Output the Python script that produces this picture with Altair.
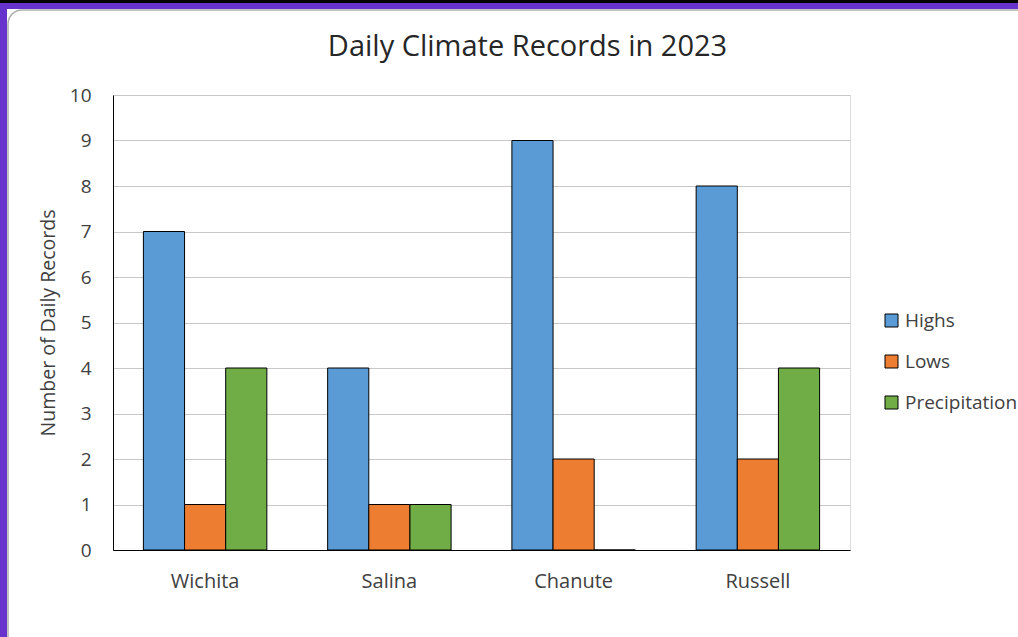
import altair as alt
import pandas as pd

cities = ["Wichita", "Salina", "Chanute", "Russell"]
series = ["Highs", "Lows", "Precipitation"]
highs = [7, 4, 9, 8]
lows = [1, 1, 2, 2]
precip = [4, 1, 0, 4]
colors = ["#5B9BD5", "#ED7D31", "#70AD47"]

rows = []
for i, c in enumerate(cities):
    for s, vals in zip(series, [highs, lows, precip]):
        rows.append({"City": c, "Type": s, "Value": vals[i]})
df = pd.DataFrame(rows)

FONT = "Open Sans"
TXT = "#404040"

bars = alt.Chart(df).mark_bar(stroke="black", strokeWidth=1).encode(
    x=alt.X("City:N", sort=cities,
            scale=alt.Scale(paddingInner=0.33, paddingOuter=0.165),
            axis=alt.Axis(title=None, labelAngle=0, ticks=False, domainColor="black",
                          labelFont=FONT, labelFontSize=20, labelColor=TXT,
                          labelPadding=21, grid=False, zindex=1)),
    xOffset=alt.XOffset("Type:N", sort=series),
    y=alt.Y("Value:Q", scale=alt.Scale(domain=[0, 10]),
            axis=alt.Axis(title="Number of Daily Records", values=list(range(11)),
                          ticks=False, domainColor="black", gridColor="#c8c8c8",
                          labelFont=FONT, labelFontSize=19, labelColor=TXT,
                          labelPadding=22, titleFont=FONT, titleFontSize=19.5,
                          titleFontWeight="normal", titleColor=TXT, titlePadding=11,
                          zindex=0)),
    color=alt.Color("Type:N", sort=series,
                    scale=alt.Scale(domain=series, range=colors),
                    legend=alt.Legend(title=None, orient="none", legendX=769, legendY=216,
                                      symbolType="square", symbolSize=169,
                                      symbolStrokeColor="black", symbolStrokeWidth=1,
                                      labelFont=FONT, labelFontSize=19, labelColor=TXT,
                                      labelOffset=4, rowPadding=21, labelLimit=400)),
)

frame_top_black = alt.Chart().mark_rect(color="#000000").encode(
    x=alt.value(-113), x2=alt.value(905), y=alt.value(-95), y2=alt.value(-92))
frame_top_purple = alt.Chart().mark_rect(color="#6633cc").encode(
    x=alt.value(-113), x2=alt.value(905), y=alt.value(-92), y2=alt.value(-86))
frame_left = alt.Chart().mark_rect(color="#6633cc").encode(
    x=alt.value(-113), x2=alt.value(-106), y=alt.value(-92), y2=alt.value(542))
panel = alt.Chart().mark_rect(fill="white", fillOpacity=0, stroke="#b0b0b0", strokeWidth=1.5,
                               cornerRadius=14).encode(
    x=alt.value(-105), x2=alt.value(920), y=alt.value(-85), y2=alt.value(560))

chart = alt.layer(panel, frame_top_black, frame_top_purple, frame_left, bars).properties(
    width=737, height=455,
    title=alt.TitleParams("Daily Climate Records in 2023", font=FONT, fontSize=29,
                          fontWeight="normal", color="#262626", anchor="middle",
                          dx=46, dy=98, offset=36),
    autosize=alt.AutoSizeParams(type="none"),
    padding={"left": 113, "top": 95, "right": 168, "bottom": 87},
).configure_view(stroke=None).configure(background="white")

chart.save("out.html", embed_options={"renderer": "svg", "actions": False})
